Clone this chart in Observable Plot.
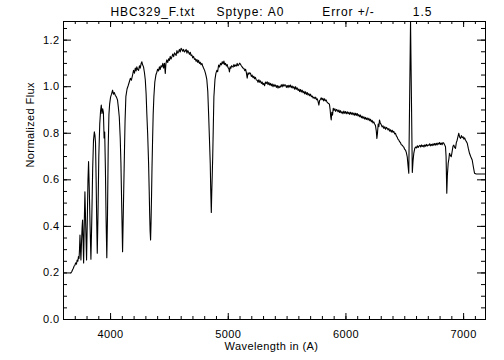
<!DOCTYPE html>
<html><head><meta charset="utf-8">
<script src="https://cdn.jsdelivr.net/npm/d3@7"></script>
<script src="https://cdn.jsdelivr.net/npm/@observablehq/plot@0.6"></script>
<style>
body{margin:0;background:#fff}
#chart svg text{font-family:'Liberation Sans', Arial, sans-serif; letter-spacing:0.4px;}
</style>
</head><body><div id="chart"></div>
<script>
const titleText = "HBC329_F.txt     Sptype: A0         Error +/-         1.5";
const xLabel = "Wavelength in (A)";
const yLabel = "Normalized Flux";
const xDomain = [3600, 7186];
const yDomain = [0, 1.28];
const xMajorTicks = [4000, 5000, 6000, 7000];
const yMajorTicks = [0.0, 0.2, 0.4, 0.6, 0.8, 1.0, 1.2];
const xMinorTicks = d3.range(3600, 7200, 100);
const yMinorTicks = d3.range(0, 1.28, 0.05);

const wavelength = [
3663,3670,3677,3684,3690,3697,3703,3710,3716,3722,3727,3732,3736,3740,3744,3748,3753,3758,3762,3766,
3771,3776,3782,3788,3796,3803,3808,3813,3819,3826,3833,3840,3848,3855,3862,3867,3872,3877,3882,3887,
3893,3900,3908,3915,3921,3927,3933,3939,3945,3950,3956,3962,3968,3974,3980,3986,3992,4000,4008,4017,
4024,4031,4040,4050,4059,4066,4074,4082,4088,4095,4102,4109,4116,4123,4130,4140,4150,4159,4168,4177,
4187,4195,4203,4210,4217,4223,4230,4238,4245,4252,4260,4266,4272,4280,4288,4295,4302,4308,4315,4323,
4328,4332,4336,4340,4344,4348,4352,4357,4362,4368,4376,4385,4393,4400,4408,4415,4422,4429,4436,4444,
4450,4458,4465,4470,4478,4486,4493,4500,4507,4514,4521,4528,4536,4543,4550,4557,4564,4571,4578,4585,
4592,4599,4606,4613,4620,4628,4635,4642,4649,4656,4663,4670,4677,4684,4691,4698,4705,4713,4720,4727,
4734,4741,4748,4755,4762,4769,4776,4783,4790,4799,4806,4812,4818,4826,4833,4840,4847,4851,4856,4860,
4864,4868,4873,4878,4887,4895,4903,4910,4918,4926,4934,4941,4949,4956,4963,4970,4977,4984,4991,4998,
5005,5010,5016,5022,5028,5034,5041,5048,5055,5062,5069,5076,5083,5090,5097,5104,5111,5118,5125,5133,
5140,5147,5154,5161,5168,5175,5182,5189,5196,5203,5210,5217,5224,5231,5238,5246,5253,5260,5267,5274,
5281,5288,5295,5302,5309,5316,5323,5331,5338,5345,5352,5359,5366,5373,5380,5388,5395,5402,5409,5416,
5423,5430,5437,5444,5451,5458,5465,5473,5480,5487,5494,5501,5508,5515,5522,5529,5536,5543,5550,5557,
5565,5572,5579,5586,5593,5600,5607,5614,5621,5628,5636,5643,5650,5657,5664,5671,5678,5685,5692,5699,
5706,5714,5721,5728,5736,5743,5750,5757,5764,5770,5776,5783,5790,5797,5804,5811,5818,5825,5832,5839,
5846,5853,5860,5866,5871,5875,5880,5886,5892,5899,5906,5913,5920,5926,5933,5940,5947,5954,5961,5968,
5975,5982,5989,5996,6003,6011,6018,6025,6032,6040,6047,6054,6061,6068,6075,6082,6089,6096,6103,6110,
6117,6124,6131,6138,6145,6152,6159,6166,6173,6180,6188,6195,6202,6209,6216,6223,6230,6237,6244,6251,
6258,6263,6268,6274,6280,6285,6292,6299,6308,6315,6322,6330,6337,6344,6351,6358,6365,6372,6379,6386,
6393,6400,6407,6414,6421,6428,6435,6442,6449,6456,6463,6470,6478,6485,6492,6499,6506,6513,6521,6528,
6534,6549,6564,6570,6577,6585,6592,6600,6607,6614,6621,6628,6635,6642,6649,6656,6663,6670,6677,6684,
6691,6698,6705,6712,6719,6726,6733,6740,6747,6754,6761,6768,6775,6782,6789,6796,6803,6810,6817,6825,
6832,6839,6846,6851,6857,6862,6869,6875,6880,6888,6895,6902,6910,6917,6924,6931,6938,6945,6952,6959,
6966,6974,6981,6988,6995,7002,7009,7016,7024,7031,7040,7050,7060,7073,7083,7093,7107,7186
];
const flux = [
0.200,0.205,0.214,0.220,0.229,0.233,0.243,0.238,0.255,0.250,0.270,0.262,0.300,0.363,0.305,0.256,0.330,0.395,0.427,0.350,
0.243,0.400,0.549,0.420,0.256,0.450,0.600,0.678,0.560,0.400,0.259,0.420,0.650,0.770,0.806,0.792,0.760,0.610,0.430,0.285,
0.450,0.700,0.840,0.895,0.921,0.885,0.905,0.890,0.780,0.805,0.650,0.430,0.265,0.450,0.740,0.880,0.925,0.955,0.968,0.985,
0.968,0.975,0.963,0.955,0.943,0.912,0.870,0.780,0.670,0.480,0.291,0.480,0.670,0.850,0.957,0.990,1.005,1.020,1.036,1.028,
1.050,1.070,1.058,1.080,1.068,1.085,1.074,1.070,1.090,1.080,1.100,1.107,1.094,1.085,1.060,1.030,0.970,0.885,0.800,0.672,
0.560,0.457,0.380,0.342,0.420,0.527,0.650,0.771,0.880,0.957,1.020,1.050,1.062,1.075,1.068,1.085,1.074,1.090,1.085,1.100,
1.080,1.100,1.057,1.098,1.115,1.104,1.120,1.113,1.130,1.119,1.128,1.140,1.129,1.145,1.140,1.134,1.155,1.144,1.150,1.160,
1.149,1.165,1.160,1.152,1.160,1.149,1.154,1.160,1.144,1.155,1.148,1.139,1.148,1.134,1.136,1.124,1.130,1.117,1.120,1.109,
1.117,1.104,1.113,1.100,1.105,1.094,1.100,1.089,1.080,1.070,1.058,1.045,1.030,0.980,0.885,0.780,0.670,0.560,0.460,0.550,
0.620,0.700,0.830,0.957,1.030,1.057,1.070,1.064,1.093,1.085,1.100,1.094,1.107,1.098,1.110,1.095,1.100,1.089,1.095,1.082,
1.078,1.063,1.085,1.079,1.090,1.087,1.084,1.095,1.087,1.093,1.089,1.100,1.090,1.095,1.101,1.096,1.090,1.085,1.080,1.078,
1.069,1.075,1.060,1.037,1.060,1.054,1.060,1.057,1.044,1.050,1.039,1.045,1.034,1.040,1.029,1.028,1.019,1.030,1.019,1.025,
1.014,1.020,1.009,1.014,1.004,1.020,1.014,1.021,1.009,1.018,1.007,1.014,1.004,1.012,1.000,1.010,1.002,1.007,0.997,1.005,
0.994,1.003,0.996,1.000,1.008,0.999,1.010,1.002,1.008,1.007,0.997,1.005,0.996,1.006,0.999,1.007,0.996,1.003,0.994,1.000,
0.989,1.000,0.989,0.995,0.984,0.990,0.979,0.988,0.977,0.985,0.974,0.980,0.969,0.978,0.967,0.975,0.964,0.970,0.961,0.968,
0.957,0.960,0.951,0.955,0.949,0.955,0.944,0.948,0.935,0.921,0.940,0.945,0.952,0.944,0.950,0.939,0.948,0.939,0.943,0.934,
0.930,0.928,0.924,0.900,0.870,0.857,0.890,0.878,0.907,0.899,0.905,0.894,0.902,0.899,0.892,0.900,0.889,0.897,0.887,0.892,
0.884,0.895,0.886,0.893,0.884,0.892,0.884,0.890,0.881,0.890,0.882,0.888,0.879,0.887,0.877,0.886,0.877,0.885,0.874,0.880,
0.871,0.878,0.867,0.873,0.864,0.871,0.861,0.868,0.859,0.866,0.857,0.864,0.854,0.860,0.849,0.855,0.844,0.849,0.840,0.833,
0.810,0.778,0.800,0.840,0.828,0.857,0.844,0.838,0.827,0.832,0.821,0.828,0.817,0.825,0.821,0.814,0.820,0.809,0.815,0.805,
0.813,0.804,0.808,0.797,0.800,0.789,0.784,0.775,0.771,0.764,0.760,0.751,0.749,0.744,0.740,0.731,0.728,0.718,0.699,0.660,
0.628,1.280,0.632,0.680,0.715,0.735,0.741,0.737,0.746,0.739,0.745,0.748,0.741,0.750,0.743,0.748,0.741,0.750,0.744,0.752,
0.745,0.750,0.748,0.755,0.746,0.752,0.747,0.755,0.748,0.756,0.749,0.757,0.750,0.758,0.753,0.760,0.752,0.758,0.751,0.760,
0.757,0.750,0.742,0.700,0.542,0.620,0.671,0.690,0.714,0.704,0.699,0.720,0.745,0.749,0.739,0.735,0.760,0.770,0.785,0.800,
0.784,0.778,0.790,0.781,0.785,0.775,0.780,0.770,0.764,0.757,0.735,0.714,0.700,0.685,0.655,0.628,0.625,0.625
];
const spectrum = wavelength.map((w, i) => ({w, f: flux[i]}));

const W = 504, H = 360, mt = 21, mb = 41, ml = 63, mr = 19;
const iw = W - ml - mr, ih = H - mt - mb;

const plot = Plot.plot({
  width: W, height: H,
  marginTop: mt, marginBottom: mb, marginLeft: ml, marginRight: mr,
  x: {domain: xDomain, axis: null},
  y: {domain: yDomain, axis: null},
  marks: [
    Plot.line(spectrum, {x: "w", y: "f", stroke: "black", strokeWidth: 1.1}),
    Plot.tickX(xMinorTicks, {x: d => d, insetTop: ih - 3, stroke: "black"}),
    Plot.tickX(xMajorTicks, {x: d => d, insetTop: ih - 6, stroke: "black"}),
    Plot.tickX(xMinorTicks, {x: d => d, insetBottom: ih - 3, stroke: "black"}),
    Plot.tickX(xMajorTicks, {x: d => d, insetBottom: ih - 6, stroke: "black"}),
    Plot.tickY(yMinorTicks, {y: d => d, insetRight: iw - 4, stroke: "black"}),
    Plot.tickY(yMajorTicks, {y: d => d, insetRight: iw - 8, stroke: "black"}),
    Plot.tickY(yMinorTicks, {y: d => d, insetLeft: iw - 4, stroke: "black"}),
    Plot.tickY(yMajorTicks, {y: d => d, insetLeft: iw - 8, stroke: "black"}),
    Plot.frame({stroke: "black"}),
    Plot.text(xMajorTicks, {x: d => d, text: d => String(d), frameAnchor: "bottom", lineAnchor: "middle", dy: 14.5, fontSize: 11, fill: "black"}),
    Plot.text(yMajorTicks, {y: d => d, text: d => d3.format(".1f")(d), frameAnchor: "left", lineAnchor: "middle", textAnchor: "end", dx: -4, fontSize: 11, fill: "black"}),
    Plot.text([xLabel], {text: d => d, frameAnchor: "bottom", lineAnchor: "middle", dy: 26.5, dx: -3, fontSize: 11, fill: "black"}),
    Plot.text([yLabel], {text: d => d, frameAnchor: "left", lineAnchor: "middle", rotate: -90, dx: -33.5, dy: -3, fontSize: 11, fill: "black"}),
    Plot.text([titleText.replace(/ /g, "\u00a0")], {text: d => d, frameAnchor: "top-left", lineAnchor: "middle", textAnchor: "start", dx: 47, dy: -9.8, fontSize: 12, fill: "black"})
  ]
});
d3.select(plot).selectAll("text").filter(function() { return this.textContent.startsWith("HBC"); }).style("letter-spacing", "0.9px");
document.getElementById("chart").appendChild(plot);
</script>
</body></html>
